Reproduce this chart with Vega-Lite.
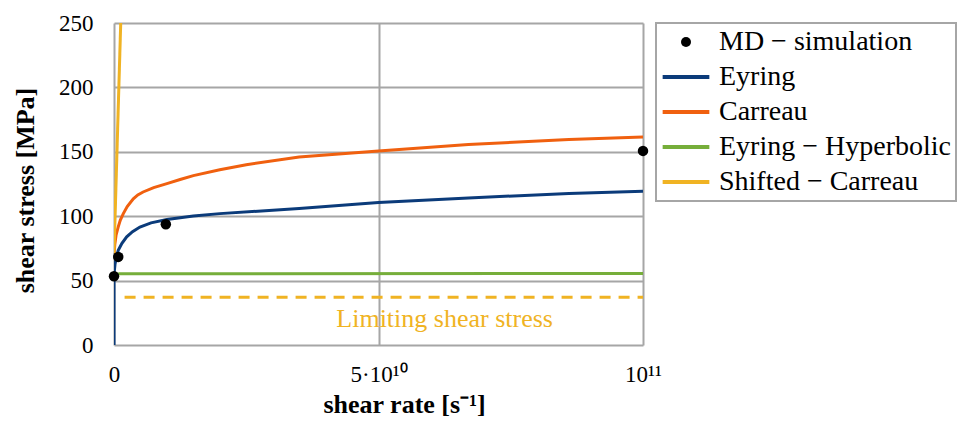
{
  "$schema": "https://vega.github.io/schema/vega-lite/v6.json",
  "width": 529,
  "height": 322,
  "autosize": {"type": "none"},
  "padding": {"left": 114, "top": 23, "right": 318, "bottom": 76},
  "background": "white",
  "config": {
    "view": {"stroke": null},
    "axis": {
      "labelColor": "black",
      "titleColor": "black",
      "gridColor": "#a6a6a6",
      "gridWidth": 2,
      "gridOpacity": 1,
      "domain": false,
      "ticks": false
    }
  },
  "datasets": {
    "curves": [
      {"series": "Eyring", "x": 0, "y": 0},
      {"series": "Eyring", "x": 0, "y": 52},
      {"series": "Eyring", "x": 50000000, "y": 57},
      {"series": "Eyring", "x": 200000000, "y": 63},
      {"series": "Eyring", "x": 500000000, "y": 69},
      {"series": "Eyring", "x": 800000000, "y": 73.5},
      {"series": "Eyring", "x": 1500000000, "y": 79},
      {"series": "Eyring", "x": 2400000000, "y": 84},
      {"series": "Eyring", "x": 3500000000, "y": 88},
      {"series": "Eyring", "x": 4900000000, "y": 91.6},
      {"series": "Eyring", "x": 7000000000, "y": 94.8},
      {"series": "Eyring", "x": 10000000000, "y": 97.4},
      {"series": "Eyring", "x": 15000000000, "y": 100.2},
      {"series": "Eyring", "x": 20000000000, "y": 102},
      {"series": "Eyring", "x": 35000000000, "y": 106},
      {"series": "Eyring", "x": 50000000000, "y": 110.6},
      {"series": "Eyring", "x": 67000000000, "y": 114.2},
      {"series": "Eyring", "x": 86000000000, "y": 117.6},
      {"series": "Eyring", "x": 100000000000, "y": 119.4},
      {"series": "Carreau", "x": 0, "y": 70},
      {"series": "Carreau", "x": 150000000, "y": 78},
      {"series": "Carreau", "x": 400000000, "y": 85.5},
      {"series": "Carreau", "x": 800000000, "y": 91.7},
      {"series": "Carreau", "x": 1200000000, "y": 97},
      {"series": "Carreau", "x": 1760000000, "y": 102},
      {"series": "Carreau", "x": 2500000000, "y": 107.5},
      {"series": "Carreau", "x": 3650000000, "y": 113.5},
      {"series": "Carreau", "x": 4500000000, "y": 116.5},
      {"series": "Carreau", "x": 5500000000, "y": 118.8},
      {"series": "Carreau", "x": 7500000000, "y": 122.2},
      {"series": "Carreau", "x": 10000000000, "y": 125.3},
      {"series": "Carreau", "x": 12500000000, "y": 128.5},
      {"series": "Carreau", "x": 15000000000, "y": 131.5},
      {"series": "Carreau", "x": 20000000000, "y": 136},
      {"series": "Carreau", "x": 25000000000, "y": 140},
      {"series": "Carreau", "x": 35000000000, "y": 146},
      {"series": "Carreau", "x": 50000000000, "y": 150.7},
      {"series": "Carreau", "x": 67000000000, "y": 155.6},
      {"series": "Carreau", "x": 86000000000, "y": 159.5},
      {"series": "Carreau", "x": 100000000000, "y": 161.5},
      {"series": "Eyring − Hyperbolic", "x": 0, "y": 54},
      {"series": "Eyring − Hyperbolic", "x": 1000000000, "y": 55.3},
      {"series": "Eyring − Hyperbolic", "x": 100000000000, "y": 55.5},
      {"series": "Shifted − Carreau", "x": 0, "y": 71},
      {"series": "Shifted − Carreau", "x": 1270000000, "y": 250}
    ],
    "md": [
      {"series": "MD − simulation", "x": 0, "y": 53.4},
      {"series": "MD − simulation", "x": 800000000, "y": 68.4},
      {"series": "MD − simulation", "x": 9800000000, "y": 93.7},
      {"series": "MD − simulation", "x": 100000000000, "y": 150.7}
    ],
    "limit": [
      {"x": 2000000000, "y": 37},
      {"x": 100000000000, "y": 37}
    ],
    "note": [
      {"x": 62500000000, "y": 14, "label": "Limiting shear stress"}
    ]
  },
  "encoding": {
    "x": {
      "field": "x",
      "type": "quantitative",
      "scale": {"domain": [0, 100000000000], "nice": false, "zero": false},
      "axis": {
        "values": [0, 50000000000, 100000000000],
        "labelExpr": "datum.value == 0 ? '0' : (datum.value == 50000000000 ? '5·10¹⁰' : '10¹¹')",
        "labelFont": "Times New Roman",
        "labelFontSize": 23,
        "labelPadding": 18,
        "labelFlush": false,
        "labelOverlap": false,
        "title": "shear rate [s⁻¹]",
        "titleFont": "Times New Roman",
        "titleFontSize": 26,
        "titleFontWeight": "bold",
        "titleX": 290,
        "titleY": 67,
        "titleAlign": "center",
        "titleBaseline": "alphabetic"
      }
    },
    "y": {
      "field": "y",
      "type": "quantitative",
      "scale": {"domain": [0, 250], "nice": false},
      "axis": {
        "values": [0, 50, 100, 150, 200, 250],
        "labelFont": "Times New Roman",
        "labelFontSize": 23,
        "labelPadding": 21,
        "labelFlush": false,
        "labelOverlap": false,
        "title": "shear stress [MPa]",
        "titleFont": "Times New Roman",
        "titleFontSize": 26,
        "titleFontWeight": "bold",
        "titleX": -81,
        "titleY": 167,
        "titleAngle": 270,
        "titleAlign": "center",
        "titleBaseline": "alphabetic"
      }
    }
  },
  "layer": [
    {
      "data": {"name": "limit"},
      "mark": {"type": "line", "color": "#f0b323", "strokeWidth": 3, "strokeDash": [11, 8]},
      "encoding": {}
    },
    {
      "data": {"name": "note"},
      "mark": {"type": "text", "color": "#f0b323", "fontSize": 26, "font": "Times New Roman", "align": "center", "baseline": "alphabetic"},
      "encoding": {"text": {"field": "label"}}
    },
    {
      "data": {"name": "curves"},
      "mark": {"type": "line", "strokeWidth": 3, "clip": true},
      "encoding": {
        "order": {"field": "y", "type": "quantitative"},
        "color": {
          "field": "series",
          "type": "nominal",
          "scale": {
            "domain": ["MD − simulation", "Eyring", "Carreau", "Eyring − Hyperbolic", "Shifted − Carreau"],
            "range": ["#000000", "#0b3b7a", "#f0600f", "#76ae3a", "#f0b323"]
          },
          "legend": {
            "orient": "none",
            "legendX": 542,
            "legendY": 0,
            "title": null,
            "labelFont": "Times New Roman",
            "labelFontSize": 28,
            "labelColor": "black",
            "labelBaseline": "middle",
            "labelLimit": 400,
            "labelOffset": 19,
            "symbolOffset": 11,
            "rowPadding": 7,
            "padding": 5,
            "strokeColor": "#a6a6a6",
            "fillColor": "white",
            "encode": {
              "legend": {"update": {"strokeWidth": {"value": 2}}},
              "symbols": {
                "update": {
                  "shape": {"signal": "datum.value === 'MD − simulation' ? 'circle' : 'stroke'"},
                  "size": {"signal": "datum.value === 'MD − simulation' ? 100 : 2180"},
                  "strokeWidth": {"signal": "datum.value === 'MD − simulation' ? 0 : 4"},
                  "fill": {"signal": "datum.value === 'MD − simulation' ? '#000000' : 'transparent'"},
                  "stroke": {"signal": "datum.value === 'Eyring' ? '#0b3b7a' : datum.value === 'Carreau' ? '#f0600f' : datum.value === 'Eyring − Hyperbolic' ? '#76ae3a' : datum.value === 'Shifted − Carreau' ? '#f0b323' : '#000000'"},
                  "opacity": {"value": 1},
                  "fillOpacity": {"value": 1},
                  "strokeOpacity": {"value": 1}
                }
              }
            }
          }
        }
      }
    },
    {
      "data": {"name": "md"},
      "mark": {"type": "point", "filled": true, "size": 110, "opacity": 1},
      "encoding": {
        "color": {"field": "series", "type": "nominal"}
      }
    }
  ]
}
